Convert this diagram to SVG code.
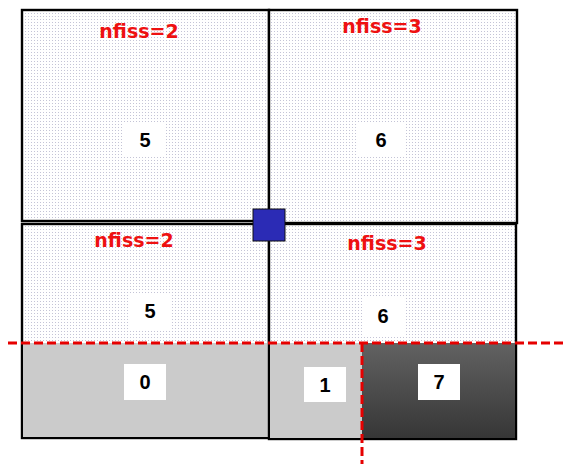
<svg xmlns="http://www.w3.org/2000/svg" width="565" height="464" viewBox="0 0 565 464">
<defs>
<pattern id="dots" width="3" height="3" patternUnits="userSpaceOnUse">
<rect width="3" height="3" fill="#ffffff"/>
<rect x="1" y="1" width="1" height="1" fill="#c4c4d6"/>
</pattern>
<linearGradient id="dark" x1="0" y1="0" x2="0" y2="1">
<stop offset="0" stop-color="#626262"/>
<stop offset="1" stop-color="#363636"/>
</linearGradient>
</defs>
<style>
.cell{fill:url(#dots);stroke:#000;stroke-width:2.4}
.lab{font-family:"DejaVu Sans",sans-serif;font-weight:bold;font-size:19px;fill:#ee1111;text-anchor:middle}
.box{fill:#fff}
.num{font-family:"Liberation Sans",Arial,sans-serif;font-weight:bold;font-size:20px;fill:#000;text-anchor:middle}
.cut{fill:none;stroke:#e60000;stroke-width:3;stroke-dasharray:9,4}
</style>
<rect width="565" height="464" fill="#fff"/>
<g id="cell-top-left">
<rect class="cell" x="22" y="10" width="247" height="211"/>
<text class="lab" x="139" y="38">nfiss=2</text>
<rect class="box" x="124" y="122" width="42" height="35"/>
<text class="num" x="145" y="147">5</text>
</g>
<g id="cell-top-right">
<rect class="cell" x="269" y="10" width="248" height="213"/>
<text class="lab" x="382" y="33">nfiss=3</text>
<rect class="box" x="358" y="122" width="46" height="35"/>
<text class="num" x="381" y="147">6</text>
</g>
<g id="cell-bottom-left">
<rect class="cell" x="22" y="224" width="247" height="214"/>
<rect x="23" y="343" width="245" height="94" fill="#cbcbcb"/>
<text class="lab" x="134" y="247">nfiss=2</text>
<rect class="box" x="128" y="293" width="44" height="37"/>
<text class="num" x="150" y="318">5</text>
<rect class="box" x="124" y="364" width="42" height="36"/>
<text class="num" x="145" y="389">0</text>
</g>
<g id="cell-bottom-right">
<rect class="cell" x="269" y="224" width="247" height="215"/>
<rect x="270" y="343" width="92" height="95" fill="#cbcbcb"/>
<rect x="362" y="343" width="153" height="95" fill="url(#dark)"/>
<text class="lab" x="387" y="250">nfiss=3</text>
<rect class="box" x="363" y="298" width="41" height="37"/>
<text class="num" x="383" y="323">6</text>
<rect class="box" x="304" y="367" width="42" height="35"/>
<text class="num" x="325" y="392">1</text>
<rect class="box" x="418" y="364" width="42" height="36"/>
<text class="num" x="439" y="389">7</text>
</g>
<g id="connectors">
<path class="cut" d="M8 343 H565"/>
<path class="cut" d="M362 343 V464"/>
</g>
<g id="corner-node">
<rect x="253" y="209" width="32" height="32" fill="#2b2bb5" stroke="#111" stroke-width="1"/>
</g>
</svg>
